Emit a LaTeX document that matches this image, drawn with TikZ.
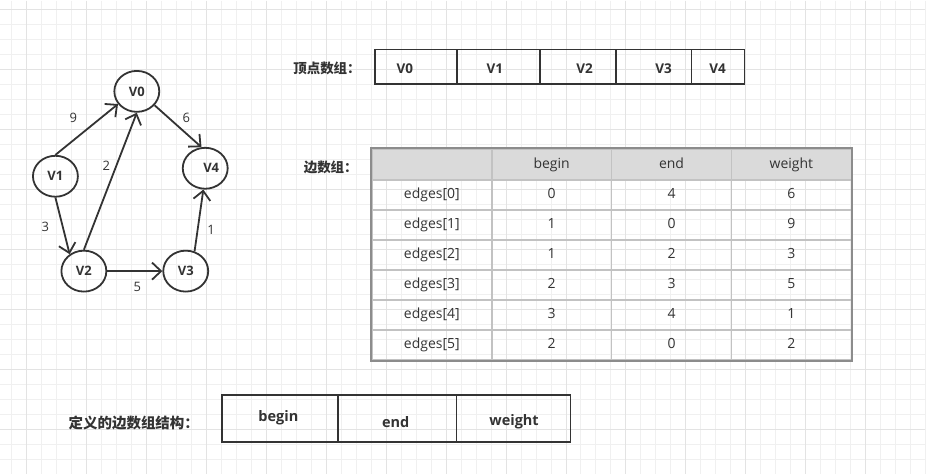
\documentclass[tikz,border=0pt]{standalone}
\usepackage{fontspec}
\setmainfont{Open Sans}
\newfontfamily\cjk{Noto Sans CJK SC}
\usetikzlibrary{shapes,arrows.meta,positioning,matrix}
\definecolor{ink}{HTML}{333333}
\definecolor{tablerule}{HTML}{8C8C8C}
\definecolor{cellrule}{HTML}{C2C2C2}
\definecolor{headfill}{HTML}{DADADA}
\definecolor{gridminor}{HTML}{F0F0F0}
\definecolor{gridmajor}{HTML}{E3E3E3}

\begin{document}
\begin{tikzpicture}[
    x=1pt, y=-1pt,
    vtx/.style={ellipse, draw=ink, line width=1.8pt, minimum width=45pt, minimum height=41pt, inner sep=0pt, text=ink, font=\bfseries\fontsize{13}{15}\selectfont},
    edge/.style={draw=ink, line width=1.8pt, -{Straight Barb[length=9pt, width=17pt]}},
    wlabel/.style={text=ink, inner sep=0pt, font=\fontsize{13}{15}\selectfont},
    caption/.style={anchor=west, inner sep=0pt, text=ink, font=\cjk\bfseries\fontsize{13.5}{15}\selectfont},
    slot/.style={draw=ink, line width=1.8pt, inner sep=0pt, outer sep=0pt, minimum height=35pt},
    field/.style={draw=ink, line width=1.8pt, inner sep=0pt, outer sep=0pt, minimum height=47.5pt},
    slotname/.style={inner sep=0pt, text=ink, font=\bfseries\fontsize{13.5}{15}\selectfont},
    fieldname/.style={inner sep=0pt, text=ink, font=\bfseries\fontsize{14.5}{16}\selectfont},
    edgetable/.style={matrix of nodes, nodes in empty cells, inner sep=0pt,
        column sep=-1.5pt, row sep=-1.5pt,
        nodes={draw=cellrule, line width=1.5pt, minimum width=120pt, minimum height=30pt,
            text height=10pt, text depth=3pt, text=ink, font=\fontsize{14}{16}\selectfont},
        row 1/.style={nodes={fill=headfill, minimum height=31pt}}},
]

% Background grid
\fill[white] (0,0) rectangle (926,474);
\foreach \gx in {0,...,61} \draw[gridminor, line width=1pt] ({11.3+15*\gx},0) -- ({11.3+15*\gx},474);
\foreach \gy in {0,...,30} \draw[gridminor, line width=1pt] (0,{9.3+15*\gy}) -- (926,{9.3+15*\gy});
\foreach \gx in {0,...,14} \draw[gridmajor, line width=1pt] ({26.3+60*\gx},0) -- ({26.3+60*\gx},474);
\foreach \gy in {0,...,7} \draw[gridmajor, line width=1pt] (0,{9.3+60*\gy}) -- (926,{9.3+60*\gy});
\useasboundingbox (0,0) rectangle (926,474);

% Directed graph
\node[vtx] (V0) at (136.5,91) {V0};
\node[vtx] (V1) at (55,176) {V1};
\node[vtx] (V4) at (205,168) {\hspace{12pt}V4};
\node[vtx] (V2) at (83.5,271) {V2};
\node[vtx] (V3) at (185.5,271) {V3};

\draw[edge] (V1.north) -- (V0.214);
\draw[edge] (V2.north) -- (V0.south);
\draw[edge] (V0.-38) -- (V4.100);
\draw[edge] (V1.south) -- (V2.130);
\draw[edge] (V2.east) -- (V3.west);
\draw[edge] (V3.66) -- (V4.265);

% Weights
\node[wlabel] (w10) at (73,118) {9};
\node[wlabel] (w20) at (106,166) {2};
\node[wlabel] (w04) at (186,118) {6};
\node[wlabel] (w12) at (45,227) {3};
\node[wlabel] (w23) at (137,287) {5};
\node[wlabel] (w34) at (211,230) {1};

% Vertex array
\node[caption] (vcap) at (293,68) {顶点数组：};
\node[slot, minimum width=82pt, anchor=north west] (s0) at (375,49) {};
\node[slot, minimum width=83pt, right=0pt of s0] (s1) {};
\node[slot, minimum width=76pt, right=0pt of s1] (s2) {};
\node[slot, minimum width=76pt, right=0pt of s2] (s3) {};
\node[slot, minimum width=53pt, right=0pt of s3] (s4) {};
\node[slotname] (n0) at (405,68) {V0};
\node[slotname] (n1) at (495,68) {V1};
\node[slotname] (n2) at (585,68) {V2};
\node[slotname] (n3) at (664,68) {V3};
\node[slotname] (n4) at (718,68) {V4};

% Edge array
\node[caption] (ecap) at (303.5,167) {边数组：};
\matrix[edgetable, anchor=north west] (edges) at (371,148) {
      & begin & end & weight \\
    edges[0] & 0 & 4 & 6 \\
    edges[1] & 1 & 0 & 9 \\
    edges[2] & 1 & 2 & 3 \\
    edges[3] & 2 & 3 & 5 \\
    edges[4] & 3 & 4 & 1 \\
    edges[5] & 2 & 0 & 2 \\
};
\draw[tablerule, line width=2pt] (edges.north west) rectangle (edges.south east);

% Edge struct
\node[caption, font=\cjk\bfseries\fontsize{14.5}{16}\selectfont] (fcap) at (68,423) {定义的边数组结构：};
\node[field, minimum width=116.6pt, anchor=north west] (f0) at (221.7,395) {};
\node[field, minimum width=118.4pt, right=0pt of f0] (f1) {};
\node[field, minimum width=114pt, right=0pt of f1] (f2) {};
\node[fieldname] (m0) at (278.3,418.3) {begin};
\node[fieldname] (m1) at (395.7,422.3) {end};
\node[fieldname] (m2) at (514.3,422.3) {weight};

\end{tikzpicture}
\end{document}
